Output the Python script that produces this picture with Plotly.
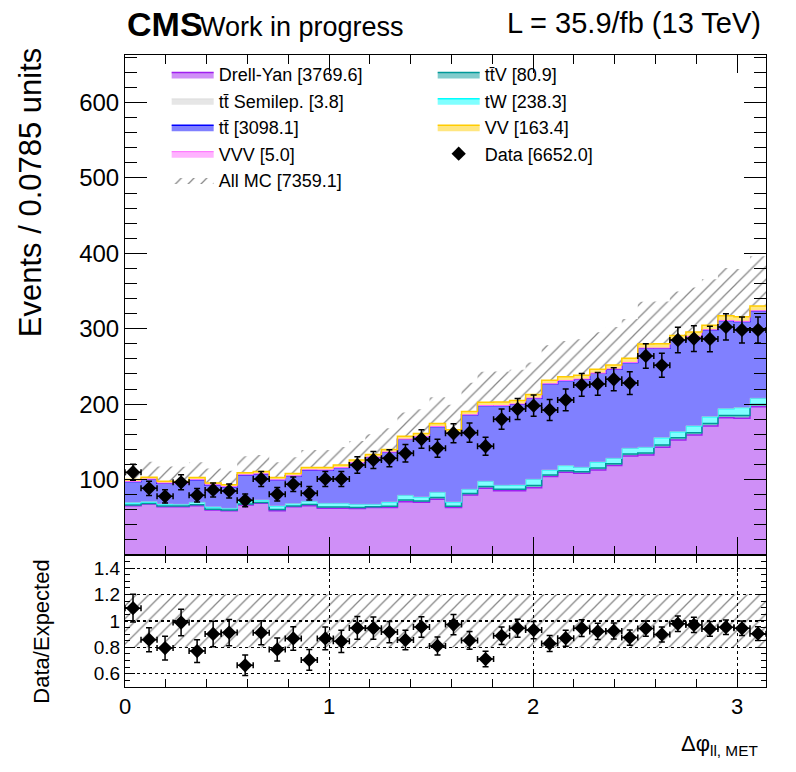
import numpy as np
import plotly.graph_objects as go

# binning: 40 bins in delta phi(ll, MET) from 0 to pi
n_bins = 40
edges = np.linspace(0, np.pi, n_bins + 1)
centers = 0.5 * (edges[1:] + edges[:-1])
half_w = 0.5 * (edges[1] - edges[0])

# per-bin yields
dy = [65.4, 67.6, 64.1, 64.1, 65.4, 59.7, 58.8, 66.3, 68.5, 58.8,
      64.1, 65.4, 61.9, 61.9, 61.5, 62.8, 62.8, 70.7, 69.8, 73.8,
      62.8, 79.6, 88.4, 85.3, 85.3, 89.3, 103.9, 109.6, 108.3, 112.7,
      118.5, 131.3, 132.6, 142.8, 152.5, 159.2, 171.1, 182.1, 181.3, 196.7]
ttv = [1.0, 0.8, 0.9, 0.8, 1.1, 1.0, 0.8, 1.3, 1.1, 1.5,
       1.0, 1.4, 1.6, 1.6, 1.4, 1.1, 1.9, 2.1, 1.8, 2.3,
       1.9, 1.9, 2.3, 1.8, 1.9, 2.8, 2.2, 2.2, 2.0, 2.7,
       2.4, 2.6, 2.6, 3.2, 2.8, 3.0, 3.1, 3.0, 3.5, 2.8]
tw = [3.0, 2.3, 2.6, 2.3, 3.3, 3.0, 2.3, 4.0, 3.3, 4.7,
      3.0, 4.4, 5.0, 5.0, 4.3, 3.3, 5.6, 6.3, 5.3, 7.0,
      5.6, 5.6, 7.0, 5.3, 5.6, 8.3, 6.6, 6.7, 6.0, 7.9,
      7.3, 7.6, 7.6, 9.6, 8.2, 8.9, 9.2, 8.9, 10.6, 8.3]
tt_semi = [0.1, 0.1, 0.1, 0.0, 0.1, 0.1, 0.0, 0.1, 0.1, 0.1,
           0.1, 0.1, 0.0, 0.1, 0.1, 0.1, 0.1, 0.1, 0.1, 0.1,
           0.1, 0.1, 0.1, 0.1, 0.1, 0.1, 0.1, 0.1, 0.1, 0.1,
           0.1, 0.1, 0.1, 0.1, 0.1, 0.1, 0.2, 0.1, 0.1, 0.1]
tt = [27.9, 29.7, 27.5, 27.9, 29.7, 29.1, 28.7, 34.5, 34.5, 34.5,
      36.7, 41.5, 44.2, 47.3, 55.2, 62.4, 65.9, 74.3, 80.0, 87.1,
      91.1, 98.6, 100.3, 105.6, 107.0, 107.4, 114.1, 112.7, 116.7, 117.6,
      118.0, 113.6, 131.3, 118.5, 121.6, 118.5, 115.0, 116.8, 114.1, 115.8]
vv = [2.5, 2.4, 2.6, 2.3, 2.7, 2.6, 2.4, 2.8, 3.0, 2.9,
      3.0, 3.1, 3.3, 3.2, 3.4, 3.5, 3.6, 3.8, 3.9, 4.0,
      4.1, 4.3, 4.4, 4.6, 4.5, 4.7, 4.8, 5.0, 5.2, 5.1,
      5.3, 5.5, 5.6, 5.7, 5.9, 5.8, 6.0, 6.2, 6.1, 6.3]
vvv = [0.1, 0.1, 0.1, 0.1, 0.3, 0.1, 0.1, 0.1, 0.1, 0.1,
       0.1, 0.1, 0.1, 0.1, 0.1, 0.1, 0.1, 0.1, 0.2, 0.1,
       0.3, 0.1, 0.1, 0.1, 0.3, 0.1, 0.1, 0.1, 0.1, 0.1,
       0.3, 0.1, 0.1, 0.1, 0.1, 0.1, 0.1, 0.1, 0.2, 0.1]
data = [109.7, 88.4, 77.8, 96.4, 79.2, 86.2, 84.9, 72.5, 100.8, 80.5,
        93.7, 81.8, 100.8, 100.8, 119.4, 126.0, 128.2, 134.8, 153.8, 141.5,
        161.4, 162.2, 144.2, 180.0, 193.6, 198.0, 192.3, 205.6, 225.5, 226.8,
        233.0, 228.0, 263.9, 251.5, 285.1, 286.9, 286.5, 302.4, 298.4, 298.4]

# total yields quoted in the legend
yields = {'Drell-Yan': 3769.6, 'ttsemi': 3.8, 'tt': 3098.1, 'VVV': 5.0, 'ttV': 80.9,
          'tW': 238.3, 'VV': 163.4, 'Data': 6652.0, 'All MC': 7359.1}
mc_unc = 0.2

TT = 't' + 't\u0304'
# bottom -> top of the stack
stack = [
    ('Drell-Yan [%.1f]' % yields['Drell-Yan'], dy, '#a020f0', '#cf8ff7', 1.5, 'legend', 1),
    (TT + 'V [%.1f]' % yields['ttV'], ttv, '#009999', '#80cccc', 1.5, 'legend2', 1),
    ('tW [%.1f]' % yields['tW'], tw, '#00ffff', '#80ffff', 1.5, 'legend2', 2),
    (TT + ' Semilep. [%.1f]' % yields['ttsemi'], tt_semi, '#cccccc', '#e6e6e6', 0.5, 'legend', 2),
    (TT + ' [%.1f]' % yields['tt'], tt, '#0000ff', '#8080ff', 1.5, 'legend', 3),
    ('VVV [%.1f]' % yields['VVV'], vvv, '#ff66ff', '#ffb3ff', 1.0, 'legend', 4),
    ('VV [%.1f]' % yields['VV'], vv, '#ffcc00', '#ffe680', 1.5, 'legend2', 3),
]

def step(vals):
    v = np.asarray(vals, dtype=float)
    return np.append(v, v[-1])

data = np.asarray(data)
total = np.sum([np.asarray(s[1]) for s in stack], axis=0)
ratio = data / total
ratio_err = np.sqrt(data) / total

font = 'Liberation Sans, Arial, sans-serif'
hatch = dict(shape='/', size=9, solidity=0.14, fgcolor='#111', bgcolor='rgba(0,0,0,0)')
fig = go.Figure()

# MC uncertainty band (main panel)
fig.add_trace(go.Scatter(x=edges, y=step(total * (1 - mc_unc)), mode='lines', line=dict(width=0, shape='hv'),
                         showlegend=False, hoverinfo='skip', xaxis='x', yaxis='y'))
fig.add_trace(go.Scatter(x=edges, y=step(total * (1 + mc_unc)), mode='lines', line=dict(width=0, shape='hv', color='#444'),
                         fill='tonexty', fillcolor='rgba(0,0,0,0)', fillpattern=hatch,
                         name='All MC [%.1f]' % yields['All MC'], legend='legend', legendrank=5,
                         hoverinfo='skip', xaxis='x', yaxis='y'))

cum = np.zeros(n_bins)
for i, (name, vals, lc, fc, lw, leg, rank) in enumerate(stack):
    cum = cum + np.asarray(vals)
    fig.add_trace(go.Scatter(x=edges, y=step(cum), mode='lines', line=dict(color=lc, width=lw, shape='hv'),
                             fill='tozeroy' if i == 0 else 'tonexty', fillcolor=fc,
                             name=name, legend=leg, legendrank=rank, xaxis='x', yaxis='y'))

fig.add_trace(go.Scatter(x=centers, y=data, mode='markers', name='Data [%.1f]' % yields['Data'],
                         marker=dict(symbol='diamond', size=11, color='black'),
                         error_y=dict(array=np.sqrt(data), width=3, thickness=1.5, color='black'),
                         error_x=dict(array=[half_w] * n_bins, width=3, thickness=1.5, color='black'),
                         legend='legend2', legendrank=4, xaxis='x', yaxis='y'))

# ratio panel
fig.add_trace(go.Scatter(x=edges, y=step(np.ones(n_bins) * (1 - mc_unc)), mode='lines', line=dict(width=0, shape='hv'),
                         showlegend=False, hoverinfo='skip', xaxis='x2', yaxis='y2'))
fig.add_trace(go.Scatter(x=edges, y=step(np.ones(n_bins) * (1 + mc_unc)), mode='lines', line=dict(width=0, shape='hv'),
                         fill='tonexty', fillcolor='rgba(0,0,0,0)', fillpattern=hatch,
                         showlegend=False, hoverinfo='skip', xaxis='x2', yaxis='y2'))
fig.add_trace(go.Scatter(x=centers, y=ratio, mode='markers', showlegend=False,
                         marker=dict(symbol='diamond', size=11, color='black'),
                         error_y=dict(array=ratio_err, width=3, thickness=1.5, color='black'),
                         error_x=dict(array=[half_w] * n_bins, width=3, thickness=1.5, color='black'),
                         xaxis='x2', yaxis='y2'))

split = 0.2089
axis_common = dict(showline=True, linecolor='black', linewidth=1, mirror='allticks', ticks='inside',
                   tickcolor='black', zeroline=False)

def tfont(size):
    return dict(family=font, color='black', size=size)

fig.update_layout(
    width=796, height=772,
    margin=dict(l=125, r=30, t=55, b=85),
    paper_bgcolor='white', plot_bgcolor='white',
    font=dict(family=font, color='black'),
    xaxis=dict(domain=[0, 1], anchor='y', range=[0, np.pi], showticklabels=False, matches='x2',
               tickvals=[0, 1, 2, 3], ticklen=18, showgrid=False,
               minor=dict(ticks='inside', dtick=0.2, tick0=0, ticklen=9, tickcolor='black', showgrid=False),
               **axis_common),
    yaxis=dict(domain=[split, 1], anchor='x', range=[0, 663], tickvals=[100, 200, 300, 400, 500, 600],
               ticklen=22, showgrid=False, tickfont=tfont(24),
               minor=dict(ticks='inside', dtick=20, tick0=0, ticklen=12, tickcolor='black', showgrid=False),
               **axis_common),
    xaxis2=dict(domain=[0, 1], anchor='y2', range=[0, np.pi], tickvals=[0, 1, 2, 3], ticklen=17,
                showgrid=True, griddash='dot', gridcolor='black', gridwidth=1, tickfont=tfont(22),
                minor=dict(ticks='inside', dtick=0.2, tick0=0, ticklen=8, tickcolor='black', showgrid=False),
                **axis_common),
    yaxis2=dict(domain=[0, split], anchor='x2', range=[0.5, 1.5], tickvals=[0.6, 0.8, 1.0, 1.2, 1.4],
                ticktext=['0.6', '0.8', '1', '1.2', '1.4'], ticklen=10, tickfont=tfont(19),
                showgrid=True, griddash='dot', gridcolor='black', gridwidth=1,
                minor=dict(ticks='inside', dtick=0.05, tick0=0.5, ticklen=5, tickcolor='black', showgrid=False),
                **axis_common),
    legend=dict(x=0.065, y=0.998, xanchor='left', yanchor='top', bgcolor='rgba(0,0,0,0)',
                font=tfont(18), itemwidth=42, tracegroupgap=0, traceorder='normal'),
    legend2=dict(x=0.48, y=0.998, xanchor='left', yanchor='top', bgcolor='rgba(0,0,0,0)',
                 font=tfont(18), itemwidth=42, tracegroupgap=0, traceorder='normal'),
    showlegend=True,
)

fig.add_shape(type='line', xref='x2', yref='y2', x0=0, x1=np.pi, y0=1, y1=1,
              line=dict(color='black', width=2, dash='dot'))

fig.add_annotation(text='<b>CMS</b>', xref='paper', yref='paper', x=0.0, y=1.049, xanchor='left', yanchor='middle',
                   showarrow=False, font=tfont(34))
fig.add_annotation(text='Work in progress', xref='paper', yref='paper', x=0.114, y=1.045, xanchor='left',
                   yanchor='middle', showarrow=False, font=tfont(27))
fig.add_annotation(text='L = 35.9/fb (13 TeV)', xref='paper', yref='paper', x=0.996, y=1.051, xanchor='right',
                   yanchor='middle', showarrow=False, font=tfont(29))
fig.add_annotation(text='Events / 0.0785 units', xref='paper', yref='paper', x=-0.147, y=0.55, xanchor='center',
                   yanchor='bottom', textangle=-90, showarrow=False, font=tfont(31))
fig.add_annotation(text='Data/Expected', xref='paper', yref='paper', x=-0.13, y=-0.03, xanchor='center',
                   yanchor='bottom', textangle=-90, showarrow=False, font=tfont(22))
fig.add_annotation(text='\u0394\u03c6<sub>ll, MET</sub>', xref='paper', yref='paper', x=0.99, y=-0.092,
                   xanchor='right', yanchor='middle', showarrow=False, font=tfont(22))

# drop the default page margin so the figure fills the window exactly
fig.write_html("out.html", config={'displayModeBar': False},
               post_script="document.body.style.margin = '0';")
